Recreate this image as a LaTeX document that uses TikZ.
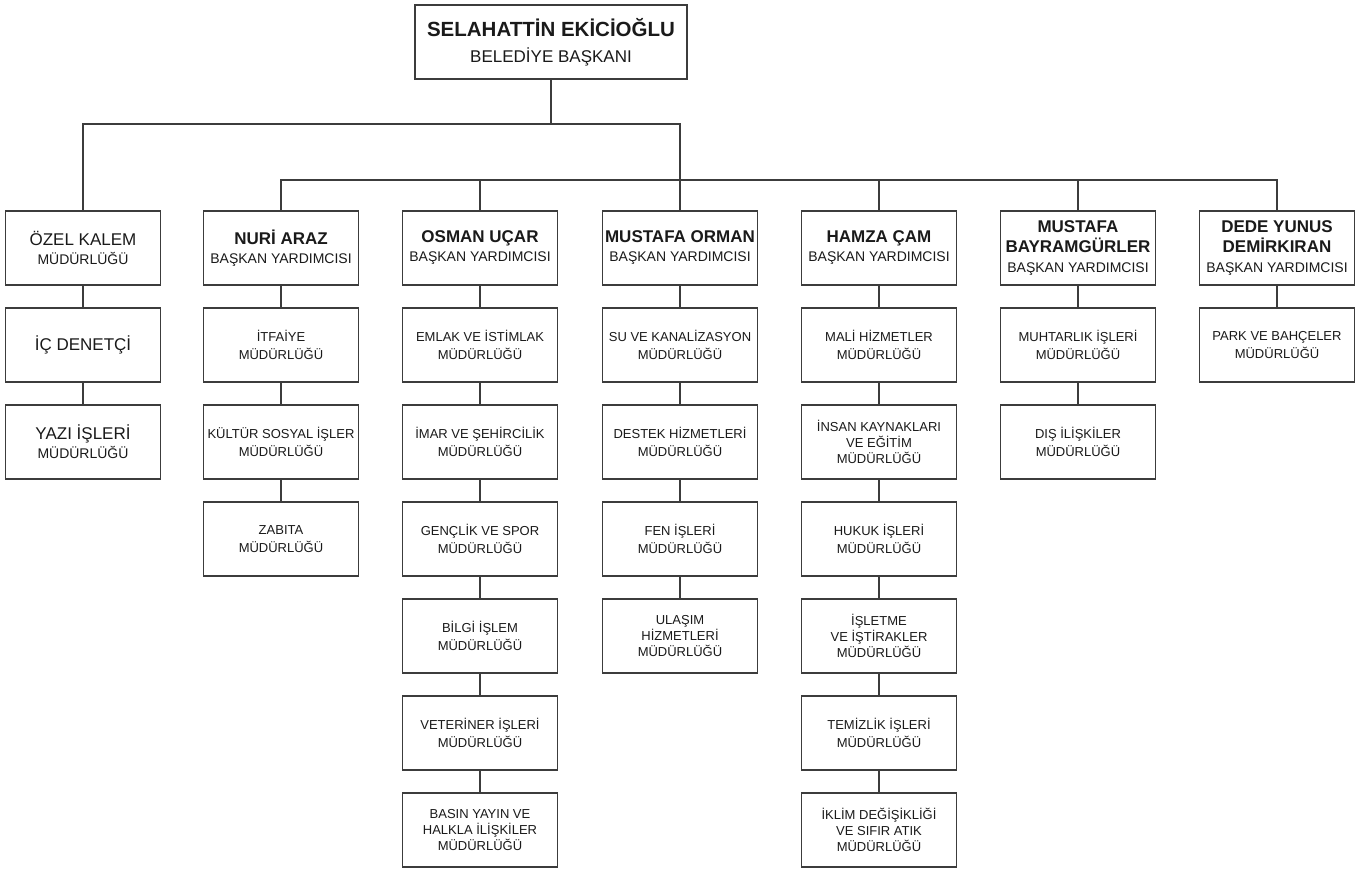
\documentclass[tikz,border=0pt]{standalone}
\usepackage{fontspec}
\setmainfont{Liberation Sans}
\definecolor{ln}{HTML}{3C3C3C}
\definecolor{tx}{HTML}{1A1A1A}
\begin{document}
\begin{tikzpicture}[x=1pt,y=-1pt,
  box/.style={draw=ln,line width=1.6pt,fill=white,inner sep=0pt,minimum width=155pt,minimum height=74pt,align=center,text=tx},
  topbox/.style={box,minimum width=272pt},
  vp/.style={box,font=\fontsize{14}{19}\selectfont},
  sub/.style={box,font=\fontsize{13}{17.5}\selectfont},
  subthree/.style={box,font=\fontsize{13}{16}\selectfont},
  big/.style={box,font=\fontsize{17}{19}\selectfont},
  conn/.style={draw=ln,line width=1.6pt}]
\useasboundingbox (0,0) rectangle (1371,869);
\fill[white] (0,0) rectangle (1371,869);
\newcommand{\nm}[1]{{\fontsize{17}{19}\selectfont\bfseries #1}}

% top
\node[topbox,font=\fontsize{17}{26}\selectfont] (top) at (551,42) {{\fontsize{20.5}{26}\selectfont\bfseries SELAHATTİN EKİCİOĞLU}\\BELEDİYE BAŞKANI};

% column 1
\node[big] (a0) at (83,248) {ÖZEL KALEM\\{\fontsize{14}{19}\selectfont MÜDÜRLÜĞÜ}};
\node[big] (a1) at (83,345) {İÇ DENETÇİ};
\node[big] (a2) at (83,442) {YAZI İŞLERİ\\{\fontsize{14}{19}\selectfont MÜDÜRLÜĞÜ}};

% column 2
\node[vp] (b0) at (281,248) {\nm{NURİ ARAZ}\\BAŞKAN YARDIMCISI};
\node[sub] (b1) at (281,345) {İTFAİYE\\MÜDÜRLÜĞÜ};
\node[sub] (b2) at (281,442) {KÜLTÜR SOSYAL İŞLER\\MÜDÜRLÜĞÜ};
\node[sub] (b3) at (281,539) {ZABITA\\MÜDÜRLÜĞÜ};

% column 3
\node[vp] (c0) at (480,248) {\nm{OSMAN UÇAR}\\BAŞKAN YARDIMCISI};
\node[sub] (c1) at (480,345) {EMLAK VE İSTİMLAK\\MÜDÜRLÜĞÜ};
\node[sub] (c2) at (480,442) {İMAR VE ŞEHİRCİLİK\\MÜDÜRLÜĞÜ};
\node[sub] (c3) at (480,539) {GENÇLİK VE SPOR\\MÜDÜRLÜĞÜ};
\node[sub] (c4) at (480,636) {BİLGİ İŞLEM\\MÜDÜRLÜĞÜ};
\node[sub] (c5) at (480,733) {VETERİNER İŞLERİ\\MÜDÜRLÜĞÜ};
\node[subthree] (c6) at (480,830) {BASIN YAYIN VE\\HALKLA İLİŞKİLER\\MÜDÜRLÜĞÜ};

% column 4
\node[vp] (d0) at (680,248) {\nm{MUSTAFA ORMAN}\\BAŞKAN YARDIMCISI};
\node[sub] (d1) at (680,345) {SU VE KANALİZASYON\\MÜDÜRLÜĞÜ};
\node[sub] (d2) at (680,442) {DESTEK HİZMETLERİ\\MÜDÜRLÜĞÜ};
\node[sub] (d3) at (680,539) {FEN İŞLERİ\\MÜDÜRLÜĞÜ};
\node[subthree] (d4) at (680,636) {ULAŞIM\\HİZMETLERİ\\MÜDÜRLÜĞÜ};

% column 5
\node[vp] (e0) at (879,248) {\nm{HAMZA ÇAM}\\BAŞKAN YARDIMCISI};
\node[sub] (e1) at (879,345) {MALİ HİZMETLER\\MÜDÜRLÜĞÜ};
\node[subthree] (e2) at (879,442) {İNSAN KAYNAKLARI\\VE EĞİTİM\\MÜDÜRLÜĞÜ};
\node[sub] (e3) at (879,539) {HUKUK İŞLERİ\\MÜDÜRLÜĞÜ};
\node[subthree] (e4) at (879,636) {İŞLETME\\VE İŞTİRAKLER\\MÜDÜRLÜĞÜ};
\node[sub] (e5) at (879,733) {TEMİZLİK İŞLERİ\\MÜDÜRLÜĞÜ};
\node[subthree] (e6) at (879,830) {İKLİM DEĞİŞİKLİĞİ\\VE SIFIR ATIK\\MÜDÜRLÜĞÜ};

% column 6
\node[vp,font=\fontsize{14}{20}\selectfont] (f0) at (1078,248) {\nm{MUSTAFA}\\\nm{BAYRAMGÜRLER}\\BAŞKAN YARDIMCISI};
\node[sub] (f1) at (1078,345) {MUHTARLIK İŞLERİ\\MÜDÜRLÜĞÜ};
\node[sub] (f2) at (1078,442) {DIŞ İLİŞKİLER\\MÜDÜRLÜĞÜ};

% column 7
\node[vp,font=\fontsize{14}{20}\selectfont] (g0) at (1277,248) {\nm{DEDE YUNUS}\\\nm{DEMİRKIRAN}\\BAŞKAN YARDIMCISI};
\node[sub] (g1) at (1277,345) {PARK VE BAHÇELER\\MÜDÜRLÜĞÜ};

% connectors
\coordinate (j1) at (551,124);
\coordinate (j2) at (680,180);
\draw[conn] (top.south) -- (j1);
\draw[conn] (a0.north) |- (j1);
\draw[conn] (j1) -| (j2);
\draw[conn] (b0.north) |- (j2);
\draw[conn] (g0.north) |- (j2);
\draw[conn] (c0.north) -- (c0.north |- j2);
\draw[conn] (d0.north) -- (j2);
\draw[conn] (e0.north) -- (e0.north |- j2);
\draw[conn] (f0.north) -- (f0.north |- j2);

\draw[conn] (a0) -- (a1); \draw[conn] (a1) -- (a2);
\draw[conn] (b0) -- (b1); \draw[conn] (b1) -- (b2); \draw[conn] (b2) -- (b3);
\draw[conn] (c0) -- (c1); \draw[conn] (c1) -- (c2); \draw[conn] (c2) -- (c3);
\draw[conn] (c3) -- (c4); \draw[conn] (c4) -- (c5); \draw[conn] (c5) -- (c6);
\draw[conn] (d0) -- (d1); \draw[conn] (d1) -- (d2); \draw[conn] (d2) -- (d3); \draw[conn] (d3) -- (d4);
\draw[conn] (e0) -- (e1); \draw[conn] (e1) -- (e2); \draw[conn] (e2) -- (e3);
\draw[conn] (e3) -- (e4); \draw[conn] (e4) -- (e5); \draw[conn] (e5) -- (e6);
\draw[conn] (f0) -- (f1); \draw[conn] (f1) -- (f2);
\draw[conn] (g0) -- (g1);
\end{tikzpicture}
\end{document}
